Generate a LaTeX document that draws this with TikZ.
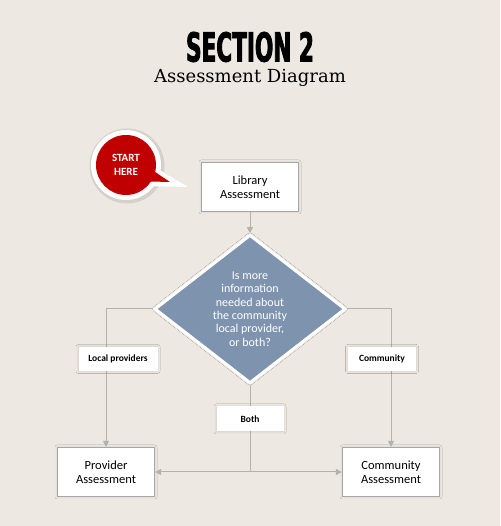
\documentclass[tikz,border=0pt]{standalone}
\usepackage{fontspec}
\setmainfont{Carlito}
\newfontfamily\headfont[FakeStretch=0.54,FakeBold=2]{DejaVu Sans}
\newfontfamily\subfont{DejaVu Serif}
\usepackage{tikz}
\usetikzlibrary{shapes.geometric, shadows.blur, calc, positioning}
\usetikzlibrary{arrows.meta}
\tikzset{>={Triangle[length=6pt,width=6pt]}}
\usepackage{xcolor}
\definecolor{paper}{HTML}{EDE8E2}
\definecolor{slate}{HTML}{7E93AD}
\definecolor{startred}{HTML}{C00000}
\definecolor{wire}{HTML}{B5B1AC}
\definecolor{rim}{HTML}{A6A6A6}

\begin{document}
\begin{tikzpicture}[x=1pt,y=1pt,
	glow/.style={blur shadow={shadow xshift=0pt,shadow yshift=0pt,shadow blur radius=2.5pt,shadow blur steps=12,shadow opacity=12}},
	stagebox/.style={draw=rim,line width=1.2pt,fill=white,minimum width=97pt,minimum height=49pt,align=center,font=\fontsize{12.5}{14}\selectfont,glow},
	tagbox/.style={fill=white,minimum height=24pt,inner sep=0pt,font=\bfseries\fontsize{9.5}{11}\selectfont,glow},
	wireline/.style={wire,line width=1pt}]
	\useasboundingbox (0,0) rectangle (500,526);
	\fill[paper] (0,0) rectangle (500,526);
	% heading
	\node (title) at (250,479) {\headfont\bfseries\fontsize{40}{40}\selectfont SECTION 2};
	\node (subtitle) at (250,448) {\subfont\fontsize{18}{20}\selectfont Assessment Diagram};
	% start bubble
	\coordinate (bub) at (126,361);
	\coordinate (tip) at (188,339);
	\coordinate (redtip) at (170,344);
	\fill[black,opacity=0.1] ($(bub)+(1,-1)$) circle (37.5);
	\fill[white] (bub) circle (35);
	\fill[white] ($(bub)+(-8:33)$) -- (tip) -- ($(bub)+(-40:33)$) -- cycle;
	\fill[startred] (bub) circle (30);
	\fill[startred] ($(bub)+(-12:28)$) -- (redtip) -- ($(bub)+(-36:28)$) -- cycle;
	\node[text=white,align=center,font=\bfseries\fontsize{11}{14}\selectfont] (start) at (126,361) {START\\HERE};
	% boxes
	\node[stagebox] (lib) at (250,339) {Library\\Assessment};
	\node[diamond,fill=slate,draw=white,line width=3pt,minimum width=191pt,minimum height=129pt,inner sep=0pt,
		text=white,align=center,font=\fontsize{12}{13.3}\selectfont,glow] (dec) at (250,217)
		{Is more\\information\\needed about\\the community\\local provider,\\or both?};
	\node[stagebox] (prov) at (106,54) {Provider\\Assessment};
	\node[stagebox] (comm) at (391,54) {Community\\Assessment};
	% connectors
	\coordinate (join) at (dec.south |- prov.east);
	\draw[wireline,->] (lib) -- (dec.north);
	\draw[wireline,->] (dec.west) -| (prov.north);
	\draw[wireline,->] (dec.east) -| (comm.north);
	\draw[wireline] (dec.south) -- (join);
	\draw[wireline,->] (join) -- (prov.east);
	\draw[wireline,->] (join) -- (comm.west);
	% answers
	\node[tagbox,minimum width=79pt] (lp) at (118,167) {Local providers};
	\node[tagbox,minimum width=68pt] (cm) at (382,167) {Community};
	\node[tagbox,minimum width=67pt,minimum height=25pt] (both) at (250,107) {Both};
\end{tikzpicture}
\end{document}
